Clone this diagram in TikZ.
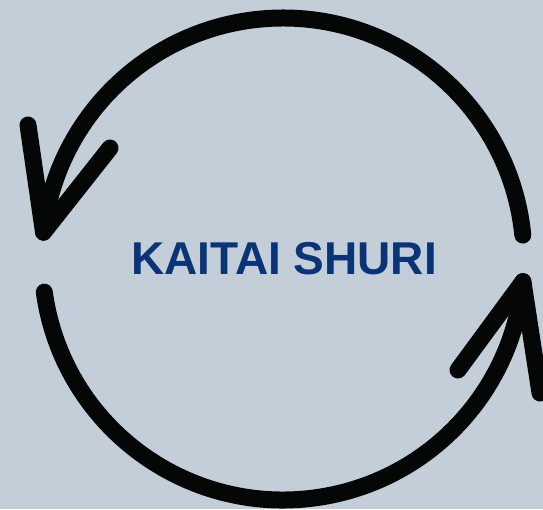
\documentclass[tikz,border=0pt]{standalone}
\usepackage{fontspec}
\setmainfont{Liberation Sans}
\definecolor{bgcol}{RGB}{196,206,217}
\definecolor{titleblue}{RGB}{10,52,118}
\definecolor{strokecol}{RGB}{5,7,7}
\begin{document}
\begin{tikzpicture}[x=1pt,y=1pt,
  stroke/.style={draw=strokecol,line width=17pt,line cap=round,line join=round},
  title/.style={font=\bfseries\fontsize{46}{50}\selectfont,text=titleblue,inner sep=0pt}]
\fill[bgcol] (0,0) rectangle (543,509);
\useasboundingbox (0,0) rectangle (543,509);
\coordinate (c) at (283,250);
\node[title] (t) at (284,250) {KAITAI SHURI};
% upper arc with arrow at left end
\draw[stroke] (c) ++(5.7:241pt) arc[start angle=5.7,end angle=173.6,radius=241pt] coordinate (ltip);
\coordinate (la1) at (28,384);
\coordinate (la2) at (110,361);
\draw[stroke] (la1) -- (ltip) -- (la2);
% lower arc with arrow at right end
\draw[stroke] (c) ++(187.9:241pt) arc[start angle=187.9,end angle=354.6,radius=241pt] coordinate (rtip);
\coordinate (ra1) at (458,139);
\coordinate (ra2) at (540,116);
\draw[stroke] (ra1) -- (rtip) -- (ra2);
\end{tikzpicture}
\end{document}
